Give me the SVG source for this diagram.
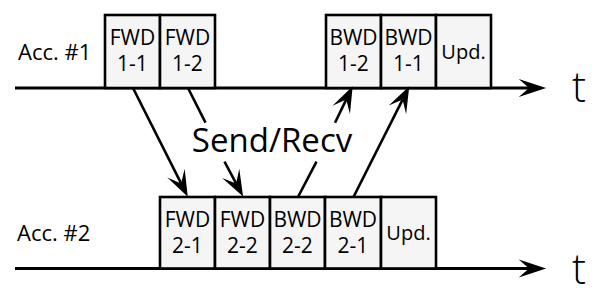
<svg xmlns="http://www.w3.org/2000/svg" width="604" height="294" viewBox="0 0 604 294">
<style>
.box{fill:#f5f5f5;stroke:#000;stroke-width:2.6}
.lbl{font-family:"Open Sans","Noto Sans",sans-serif;font-size:21px;fill:#000;text-anchor:middle}
.upd{font-family:"Open Sans","Noto Sans",sans-serif;font-size:20px;fill:#000;text-anchor:middle}
.acc{font-family:"Open Sans","Noto Sans",sans-serif;font-size:22px;fill:#000}
.axis{stroke:#000;stroke-width:3;fill:none}
.conn{stroke:#000;stroke-width:2.6;fill:none}
.t{font-family:"Open Sans","Noto Sans",sans-serif;font-size:42px;font-weight:300;fill:#000}
</style>
<defs>
<marker id="ah" markerUnits="userSpaceOnUse" orient="auto" refX="0" refY="0" markerWidth="40" markerHeight="40" viewBox="-15 -12 35 24" overflow="visible">
<path d="M13,0 L-10,-8.5 L0,0 L-10,8.5 Z" fill="#000"/>
</marker>
<marker id="axh" markerUnits="userSpaceOnUse" orient="auto" refX="0" refY="0" markerWidth="40" markerHeight="40" viewBox="-15 -12 35 24" overflow="visible">
<path d="M15,0 L-9,-7.8 L0,0 L-9,7.8 Z" fill="#000"/>
</marker>
</defs>
<g id="axes">
<line class="axis" x1="15" y1="88" x2="529" y2="88" marker-end="url(#axh)"/>
<line class="axis" x1="15" y1="268.5" x2="529" y2="268.5" marker-end="url(#axh)"/>
<text class="t" x="572" y="102">t</text>
<text class="t" x="572" y="284">t</text>
</g>
<g id="acc1"><text class="acc" x="18" y="60">Acc. #1</text></g>
<g id="acc2"><text class="acc" x="17" y="241">Acc. #2</text></g>
<g id="fwd11"><rect class="box" x="105" y="15" width="55" height="73"/><text class="lbl" x="132.5" y="45">FWD</text><text class="lbl" x="132.5" y="71">1-1</text></g>
<g id="fwd12"><rect class="box" x="160" y="15" width="55" height="73"/><text class="lbl" x="187.5" y="45">FWD</text><text class="lbl" x="187.5" y="71">1-2</text></g>
<g id="bwd12"><rect class="box" x="326" y="15" width="55" height="73"/><text class="lbl" x="353.5" y="45">BWD</text><text class="lbl" x="353.5" y="71">1-2</text></g>
<g id="bwd11"><rect class="box" x="381" y="15" width="55" height="73"/><text class="lbl" x="408.5" y="45">BWD</text><text class="lbl" x="408.5" y="71">1-1</text></g>
<g id="upd1"><rect class="box" x="436" y="15" width="55" height="73"/><text class="upd" x="463.5" y="58.5">Upd.</text></g>
<g id="fwd21"><rect class="box" x="160" y="197" width="55" height="71.5"/><text class="lbl" x="187.5" y="227">FWD</text><text class="lbl" x="187.5" y="253">2-1</text></g>
<g id="fwd22"><rect class="box" x="215" y="197" width="55" height="71.5"/><text class="lbl" x="242.5" y="227">FWD</text><text class="lbl" x="242.5" y="253">2-2</text></g>
<g id="bwd22"><rect class="box" x="270" y="197" width="55" height="71.5"/><text class="lbl" x="297.5" y="227">BWD</text><text class="lbl" x="297.5" y="253">2-2</text></g>
<g id="bwd21"><rect class="box" x="325" y="197" width="56" height="71.5"/><text class="lbl" x="353" y="227">BWD</text><text class="lbl" x="353" y="253">2-1</text></g>
<g id="upd2"><rect class="box" x="381" y="197" width="55" height="71.5"/><text class="upd" x="408.5" y="240">Upd.</text></g>
<g id="connectors">
<line class="conn" x1="133" y1="88" x2="181.1" y2="183.4" marker-end="url(#ah)"/>
<line class="conn" x1="188" y1="88" x2="205.5" y2="122.7"/>
<line class="conn" x1="224.5" y1="161.7" x2="236.1" y2="183.4" marker-end="url(#ah)"/>
<line class="conn" x1="298" y1="197" x2="316.5" y2="161.7"/>
<line class="conn" x1="335" y1="122.7" x2="346.2" y2="99.6" marker-end="url(#ah)"/>
<line class="conn" x1="353.5" y1="197" x2="402.6" y2="99.6" marker-end="url(#ah)"/>
<text x="272" y="152" font-family="Open Sans, Noto Sans, sans-serif" font-size="33" text-anchor="middle">Send/Recv</text>
</g>
</svg>
